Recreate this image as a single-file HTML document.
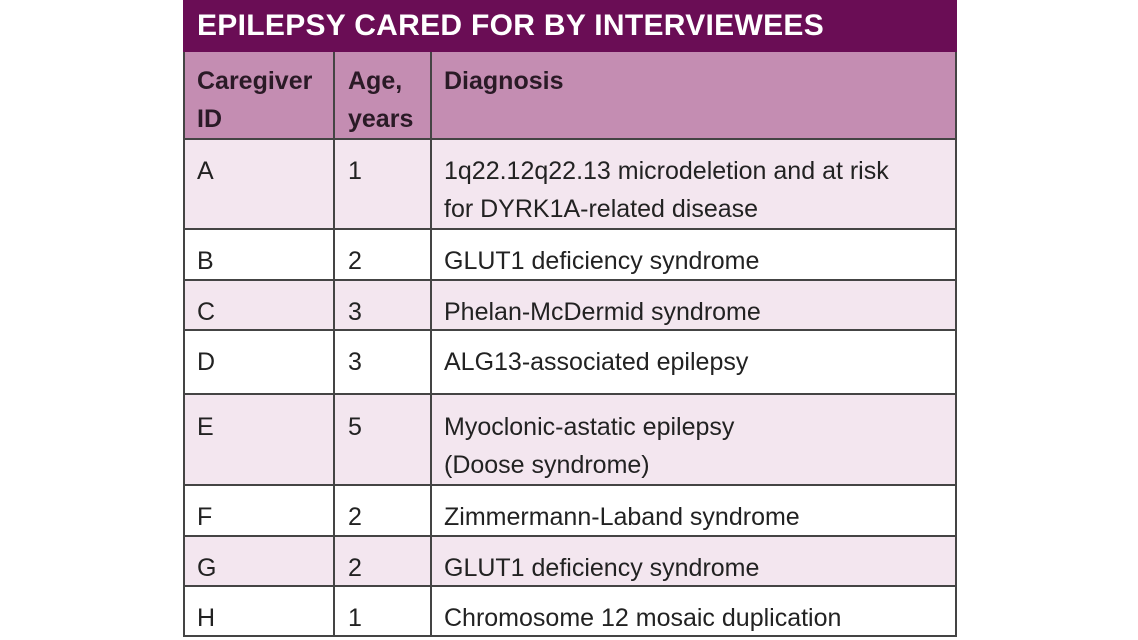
<!DOCTYPE html>
<html><head><meta charset="utf-8"><style>
body{margin:0;width:1138px;height:640px;background:#fff;overflow:hidden;font-family:"Liberation Sans",sans-serif;position:relative}
.t{position:absolute;left:183px;top:0;width:774px;height:52px;background:#6a0d55;color:#fff;font-weight:bold;font-size:30px;line-height:52px;box-sizing:border-box;padding-left:14px;letter-spacing:0.3px}
.r{position:absolute;left:183px;width:774px;box-sizing:border-box;border-left:2px solid #444;border-right:2px solid #444;border-bottom:2px solid #444}
.c{position:absolute;top:0;bottom:0;font-size:25px;color:#222;line-height:38px;padding-top:12px;box-sizing:border-box}
.c1{left:0;padding-left:12px;width:150px;border-right:2px solid #444}
.c2{left:150px;width:97px;border-right:2px solid #444;padding-left:13px}
.c3{left:249px;padding-left:10px;width:520px}
.h .c{font-weight:bold;color:#2a1a26;padding-top:10px}
</style></head><body>
<div class="t">EPILEPSY CARED FOR BY INTERVIEWEES</div>
<div class="r h" style="top:52px;height:88px;background:#c48db2">
<div class="c c1">Caregiver<br>ID</div>
<div class="c c2">Age,<br>years</div>
<div class="c c3">Diagnosis</div></div>
<div class="r" style="top:140px;height:90px;background:#f3e6ef">
<div class="c c1">A</div><div class="c c2">1</div><div class="c c3">1q22.12q22.13 microdeletion and at risk<br>for DYRK1A-related disease</div></div>
<div class="r" style="top:230px;height:51px;background:#fff">
<div class="c c1">B</div><div class="c c2">2</div><div class="c c3">GLUT1 deficiency syndrome</div></div>
<div class="r" style="top:281px;height:50px;background:#f3e6ef">
<div class="c c1">C</div><div class="c c2">3</div><div class="c c3">Phelan-McDermid syndrome</div></div>
<div class="r" style="top:331px;height:64px;background:#fff">
<div class="c c1">D</div><div class="c c2">3</div><div class="c c3">ALG13-associated epilepsy</div></div>
<div class="r" style="top:395px;height:91px;background:#f3e6ef">
<div class="c c1" style="padding-top:13px">E</div><div class="c c2" style="padding-top:13px">5</div><div class="c c3" style="padding-top:13px">Myoclonic-astatic epilepsy<br>(Doose syndrome)</div></div>
<div class="r" style="top:486px;height:51px;background:#fff">
<div class="c c1">F</div><div class="c c2">2</div><div class="c c3">Zimmermann-Laband syndrome</div></div>
<div class="r" style="top:537px;height:50px;background:#f3e6ef">
<div class="c c1">G</div><div class="c c2">2</div><div class="c c3">GLUT1 deficiency syndrome</div></div>
<div class="r" style="top:587px;height:50px;background:#fff">
<div class="c c1">H</div><div class="c c2">1</div><div class="c c3">Chromosome 12 mosaic duplication</div></div>
</body></html>
